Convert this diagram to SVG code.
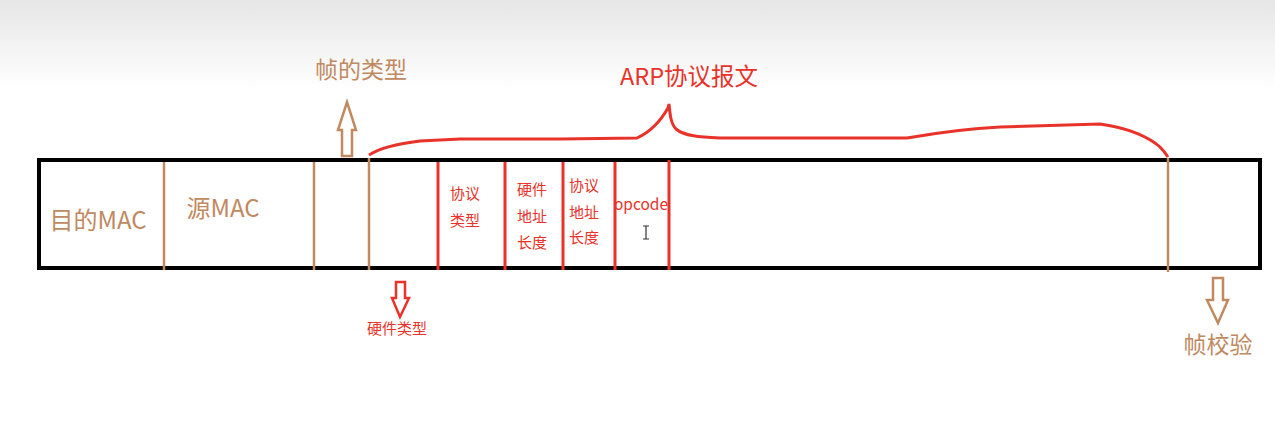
<svg xmlns="http://www.w3.org/2000/svg" width="1275" height="424" viewBox="0 0 1275 424">
<defs>
<linearGradient id="bg" x1="0" y1="0" x2="0" y2="1">
<stop offset="0" stop-color="#e6e6e6"/>
<stop offset="1" stop-color="#ffffff"/>
</linearGradient>
<style>
.brn{stroke:#c0895f;stroke-width:2.5;fill:none}
.red{stroke:#e8322a;stroke-width:3;fill:none}
.tb{font-family:"Noto Sans CJK SC","Liberation Sans",sans-serif;fill:#c0895f}
.tr{font-family:"Noto Sans CJK SC","Liberation Sans",sans-serif;fill:#e8322a}
.arB{fill:#ffffff;stroke:#c0895f;stroke-width:2.5;stroke-linejoin:miter}
.arR{fill:#ffffff;stroke:#e8322a;stroke-width:2.5;stroke-linejoin:miter}
</style>
</defs>
<rect x="0" y="0" width="1275" height="424" fill="#ffffff"/>
<rect x="0" y="0" width="1275" height="90" fill="url(#bg)"/>

<g id="frame">
<rect x="39" y="160" width="1221" height="108" fill="#ffffff" stroke="#000000" stroke-width="4"/>
</g>

<g id="connectors">
<line class="brn" x1="164" y1="162" x2="164" y2="270"/>
<line class="brn" x1="314" y1="162" x2="314" y2="270"/>
<line class="brn" x1="369" y1="158" x2="369" y2="270"/>
<line class="brn" x1="1168" y1="158" x2="1168" y2="272"/>
<line class="red" x1="438" y1="162" x2="438" y2="270"/>
<line class="red" x1="505" y1="162" x2="505" y2="270"/>
<line class="red" x1="563" y1="162" x2="563" y2="270"/>
<line class="red" x1="615" y1="162" x2="615" y2="270"/>
<line class="red" x1="669" y1="160" x2="669" y2="270"/>
<path class="red" d="M369,155 C380,148 395,144 420,141 L460,139 L560,139 L637,138 C648,133 660,122 668,108 L669,104 C670,115 671,124 676,129 C684,136 700,137 720,138 L907,138 C930,134 960,129 1000,127 L1100,124 C1130,128 1150,138 1160,147 C1164,151 1166,154 1168,157"/>
</g>

<g id="arrow-frametype">
<path class="arB" d="M342,156 L342,130 L338,130 L347,102 L356,130 L352,130 L352,156 Z"/>
<text class="tb" x="361" y="78" font-size="23" text-anchor="middle">帧的类型</text>
</g>

<g id="field-dstmac">
<text class="tb" x="98" y="229" font-size="24" text-anchor="middle">目的MAC</text>
</g>
<g id="field-srcmac">
<text class="tb" x="223" y="217" font-size="24" text-anchor="middle">源MAC</text>
</g>

<g id="arrow-hwtype">
<path class="arR" d="M396,282 L405,282 L405,298 L409,298 L400,317 L392,298 L396,298 Z"/>
<text class="tr" x="397" y="334" font-size="15" text-anchor="middle">硬件类型</text>
</g>

<g id="field-prototype">
<text class="tr" x="465" y="199" font-size="15" text-anchor="middle">协议</text>
<text class="tr" x="465" y="226" font-size="15" text-anchor="middle">类型</text>
</g>
<g id="field-hwlen">
<text class="tr" x="532" y="195" font-size="15" text-anchor="middle">硬件</text>
<text class="tr" x="532" y="222" font-size="15" text-anchor="middle">地址</text>
<text class="tr" x="532" y="248" font-size="15" text-anchor="middle">长度</text>
</g>
<g id="field-protolen">
<text class="tr" x="584" y="191" font-size="15" text-anchor="middle">协议</text>
<text class="tr" x="584" y="218" font-size="15" text-anchor="middle">地址</text>
<text class="tr" x="584" y="243" font-size="15" text-anchor="middle">长度</text>
</g>
<g id="field-opcode">
<text class="tr" x="641" y="210" font-size="15.5" text-anchor="middle">opcode</text>
<path d="M643,226 L649,226 M646,226 L646,239 M643,239 L649,239" stroke="#333333" stroke-width="1.2" fill="none"/>
</g>

<g id="label-arp">
<text class="tr" x="689" y="85" font-size="23.5" text-anchor="middle">ARP协议报文</text>
</g>

<g id="arrow-fcs">
<path class="arB" d="M1213,278 L1223,278 L1223,300 L1228,300 L1218,323 L1207,300 L1213,300 Z"/>
<text class="tb" x="1218" y="353" font-size="23" text-anchor="middle">帧校验</text>
</g>
</svg>
